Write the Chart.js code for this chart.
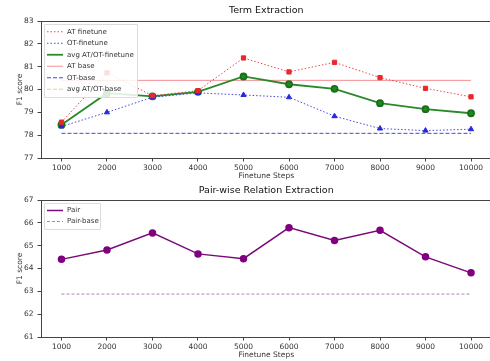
<!DOCTYPE html>
<html>
<head>
<meta charset="utf-8">
<script src="https://cdn.jsdelivr.net/npm/chart.js@4.4.1/dist/chart.umd.min.js"></script>
<style>
  html, body { margin: 0; padding: 0; background: #fff; overflow: hidden; width: 490px; height: 361px; }
  #c1 { position: absolute; left: 0; top: 0; }
  #c2 { position: absolute; left: 0; top: 180px; }
</style>
</head>
<body>
<canvas id="c1" width="500" height="180"></canvas>
<canvas id="c2" width="500" height="181"></canvas>
<script>
// ---- data ----
const steps = [1000, 2000, 3000, 4000, 5000, 6000, 7000, 8000, 9000, 10000];
const atFinetune = [78.57, 80.73, 79.73, 79.95, 81.38, 80.77, 81.19, 80.52, 80.05, 79.68];
const otFinetune = [78.38, 79.00, 79.66, 79.85, 79.76, 79.66, 78.83, 78.29, 78.20, 78.26];
const avgFinetune = [78.46, 79.84, 79.70, 79.90, 80.57, 80.23, 80.03, 79.40, 79.14, 78.96];
const atBase = [80.40, 80.40, 80.40, 80.40, 80.40, 80.40, 80.40, 80.40, 80.40, 80.40];
const otBase = [78.08, 78.08, 78.08, 78.08, 78.08, 78.08, 78.08, 78.08, 78.08, 78.08];
const avgBase = [];
const pair = [64.40, 64.81, 65.56, 64.64, 64.43, 65.79, 65.23, 65.67, 64.51, 63.81];
const pairBase = [62.88, 62.88, 62.88, 62.88, 62.88, 62.88, 62.88, 62.88, 62.88, 62.88];
const termTicks = [77, 78, 79, 80, 81, 82, 83];
const pairTicks = [61, 62, 63, 64, 65, 66, 67];

const FONT = "'DejaVu Sans', sans-serif";
const TXT = '#333';

function pts(vals) { return vals.map((v, i) => ({ x: steps[i], y: v })); }

const framePlugin = {
  id: 'frame',
  beforeDatasetsDraw(chart) {
    const { ctx, chartArea: a } = chart;
    ctx.save();
    ctx.strokeStyle = '#444';
    ctx.lineWidth = 1;
    ctx.strokeRect(Math.round(a.left) + 0.5, Math.round(a.top) + 0.5, Math.round(a.right - a.left), Math.round(a.bottom - a.top));
    ctx.restore();
  }
};

const textPlugin = {
  id: 'texts',
  afterDraw(chart, args, opts) {
    const { ctx, chartArea: a } = chart;
    ctx.save();
    ctx.fillStyle = '#111';
    ctx.textAlign = 'center';
    ctx.textBaseline = 'middle';
    ctx.font = '9.5px ' + FONT;
    ctx.fillText(opts.title, (a.left + a.right) / 2, opts.titleY);
    ctx.font = '7.5px ' + FONT;
    ctx.fillStyle = TXT;
    ctx.fillText('Finetune Steps', (a.left + a.right) / 2, opts.xTitleY);
    ctx.translate(20, (a.top + a.bottom) / 2);
    ctx.rotate(-Math.PI / 2);
    ctx.fillText('F1 score', 0, 0);
    ctx.restore();
  }
};

const legendPlugin = {
  id: 'inlegend',
  afterDraw(chart, args, opts) {
    const { ctx, chartArea: a } = chart;
    const ds = chart.data.datasets;
    ctx.save();
    ctx.font = '7px ' + FONT;
    const x0 = a.left + 3, y0 = a.top + 3;
    const rowH = opts.rowH;
    const w = opts.w, h = ds.length * rowH + 4;
    ctx.fillStyle = 'rgba(255,255,255,0.85)';
    ctx.strokeStyle = '#dcdcdc';
    ctx.lineWidth = 1;
    ctx.beginPath();
    ctx.rect(x0 + 0.5, y0 + 0.5, w, h);
    ctx.fill();
    ctx.stroke();
    ds.forEach((d, i) => {
      const cy = y0 + 2 + rowH * i + rowH / 2;
      ctx.strokeStyle = d.borderColor;
      ctx.lineWidth = d.borderWidth;
      ctx.setLineDash(d.borderDash || []);
      ctx.beginPath();
      ctx.moveTo(x0 + 3, cy);
      ctx.lineTo(x0 + 19, cy);
      ctx.stroke();
      ctx.setLineDash([]);
      ctx.fillStyle = TXT;
      ctx.textAlign = 'left';
      ctx.textBaseline = 'middle';
      ctx.fillText(d.label, x0 + 23, cy);
    });
    ctx.restore();
  }
};

function makeOptions(yMin, yMax, yTicks, padTop, xHeight, texts, legend) {
  return {
    responsive: false,
    animation: false,
    layout: { padding: { top: padTop, right: 8.5, left: 0, bottom: 0 } },
    plugins: {
      legend: { display: false },
      tooltip: { enabled: false },
      texts: texts,
      inlegend: legend
    },
    scales: {
      x: {
        type: 'linear',
        min: 550, max: 10450,
        afterBuildTicks(s) { s.ticks = steps.map(v => ({ value: v })); },
        afterFit(s) { s.height = xHeight; },
        border: { display: false },
        grid: { drawOnChartArea: false, drawTicks: true, tickLength: 3.5, color: '#444' },
        ticks: { font: { family: FONT, size: 7.5 }, color: TXT, padding: 2, maxRotation: 0, autoSkip: false,
                 callback: v => String(v) }
      },
      y: {
        min: yMin, max: yMax,
        afterBuildTicks(s) { s.ticks = yTicks.map(v => ({ value: v })); },
        afterFit(s) { s.width = 41; },
        border: { display: false },
        grid: { drawOnChartArea: false, drawTicks: true, tickLength: 3.5, color: '#444' },
        ticks: { font: { family: FONT, size: 7.5 }, color: TXT, padding: 4, callback: v => String(v) }
      }
    }
  };
}

new Chart(document.getElementById('c1'), {
  type: 'line',
  data: {
    datasets: [
      { label: 'AT finetune', data: pts(atFinetune), borderColor: 'rgba(232,40,45,0.85)', borderWidth: 1, borderDash: [1.5, 2],
        pointStyle: 'rect', pointRadius: 3, pointBackgroundColor: '#e8282d', pointBorderColor: '#e8282d', tension: 0 },
      { label: 'OT-finetune', data: pts(otFinetune), borderColor: 'rgba(40,40,220,0.85)', borderWidth: 1, borderDash: [1.5, 2],
        pointStyle: 'triangle', pointRadius: 3, pointBackgroundColor: '#2828dc', pointBorderColor: '#2828dc', tension: 0 },
      { label: 'avg AT/OT-finetune', data: pts(avgFinetune), borderColor: '#2a8a2a', borderWidth: 1.8,
        pointStyle: 'circle', pointRadius: 3, pointBackgroundColor: '#1f8a1f', pointBorderColor: '#1a6e1a', tension: 0 },
      { label: 'AT base', data: pts(atBase), borderColor: 'rgba(235,70,80,0.6)', borderWidth: 1, pointRadius: 0, tension: 0 },
      { label: 'OT-base', data: pts(otBase), borderColor: 'rgba(40,40,200,0.85)', borderWidth: 1, borderDash: [4, 2], pointRadius: 0, tension: 0 },
      { label: 'avg AT/OT-base', data: pts(avgBase), borderColor: 'rgba(230,200,90,0.8)', borderWidth: 1, borderDash: [4, 2], pointRadius: 0, tension: 0 }
    ]
  },
  options: makeOptions(77, 83, termTicks, 21, 22,
    { title: 'Term Extraction', titleY: 11, xTitleY: 176 },
    { rowH: 11.5, w: 93 }),
  plugins: [framePlugin, textPlugin, legendPlugin]
});

new Chart(document.getElementById('c2'), {
  type: 'line',
  data: {
    datasets: [
      { label: 'Pair', data: pts(pair), borderColor: '#7a0a7a', borderWidth: 1.5,
        pointStyle: 'circle', pointRadius: 3, pointBackgroundColor: '#800080', pointBorderColor: '#800080', tension: 0 },
      { label: 'Pair-base', data: pts(pairBase), borderColor: 'rgba(170,90,170,0.8)', borderWidth: 1, borderDash: [3, 2], pointRadius: 0, tension: 0 }
    ]
  },
  options: makeOptions(61, 67, pairTicks, 20, 24,
    { title: 'Pair-wise Relation Extraction', titleY: 11, xTitleY: 175 },
    { rowH: 11, w: 56 }),
  plugins: [framePlugin, textPlugin, legendPlugin]
});
</script>
</body>
</html>
